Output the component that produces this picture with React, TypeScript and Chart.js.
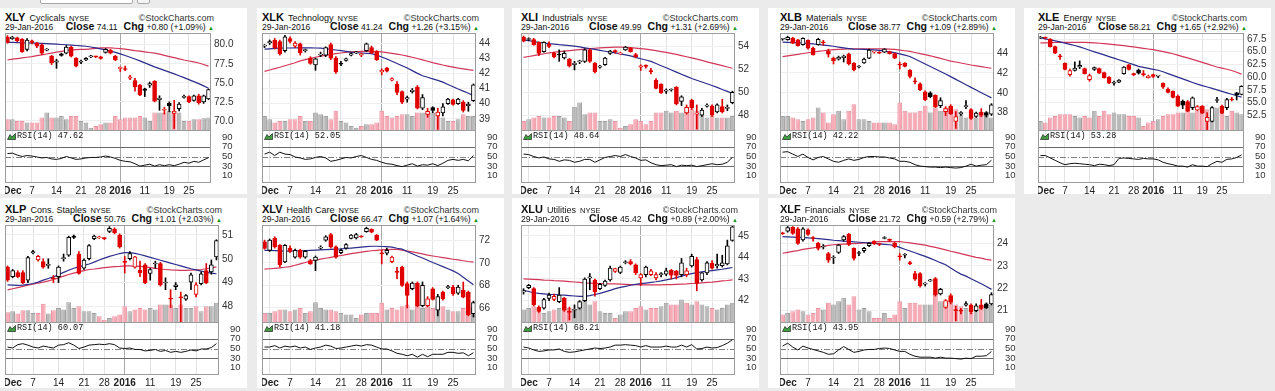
import React, { useEffect, useRef } from 'react';
import { Chart, registerables } from 'chart.js';
Chart.register(...registerables);

// ---------- shared axis data ----------
const DATES = ['Nov 30','Dec 1','Dec 2','Dec 3','Dec 4','Dec 7','Dec 8','Dec 9','Dec 10','Dec 11','Dec 14','Dec 15','Dec 16','Dec 17','Dec 18','Dec 21','Dec 22','Dec 23','Dec 24','Dec 28','Dec 29','Dec 30','Dec 31','Jan 4','Jan 5','Jan 6','Jan 7','Jan 8','Jan 11','Jan 12','Jan 13','Jan 14','Jan 15','Jan 19','Jan 20','Jan 21','Jan 22','Jan 25','Jan 26','Jan 27','Jan 28','Jan 29'];
const XTICK_INDEX = [1, 5, 10, 15, 19, 23, 28, 33, 37];
const XTICK_TEXT = ['Dec', '7', '14', '21', '28', '2016', '11', '19', '25'];
const XTICK_BOLD = ['Dec', '2016'];
const RSI_TICKS = [10, 30, 50, 70, 90];
const RSI_LEVELS = [70, 50, 30];

// ---------- XLY ----------
const XLY_PREV = 80.8;
const XLY_O = [81.0,80.8,80.9,80.7,79.4,80.5,80.2,80.0,79.3,78.5,77.7,78.8,78.9,79.7,78.2,77.7,78.0,78.4,78.5,78.4,79.0,79.3,78.5,76.9,76.8,75.6,75.3,74.7,74.2,74.7,75.2,72.8,71.4,72.3,71.0,71.6,73.1,73.2,72.7,73.3,72.5,72.9];
const XLY_H = [81.2,81.1,81.0,80.8,80.8,80.6,80.3,80.1,79.5,78.6,78.1,78.9,79.9,79.8,78.3,78.0,78.3,78.6,78.5,78.5,79.5,79.4,78.6,77.1,77.2,76.0,75.6,74.8,74.3,75.1,75.3,73.3,71.8,72.5,72.7,72.4,73.4,73.3,73.4,73.5,73.4,74.2];
const XLY_L = [80.2,80.7,80.4,79.0,79.2,80.1,79.6,78.7,79.2,77.4,76.9,78.5,78.8,78.4,77.1,77.5,77.9,78.3,78.3,78.1,78.9,78.8,77.9,76.5,76.6,75.4,73.9,73.3,73.2,74.4,72.5,71.4,70.9,71.2,69.0,71.3,73.0,72.4,72.6,72.2,72.3,72.8];
const XLY_C = [80.3,81.0,80.5,79.1,80.6,80.3,79.8,78.9,79.4,77.6,77.9,78.6,79.7,78.5,77.2,77.8,78.2,78.5,78.4,78.2,79.4,78.9,78.0,76.9,76.75,75.8,74.5,73.4,74.0,74.9,72.6,73.0,71.5,72.0,71.3,72.2,73.2,72.5,73.3,72.4,73.31,74.11];
const XLY_V = [35,35,30,30,25,25,25,40,55,40,40,45,35,45,45,30,25,10,15,20,25,25,45,35,40,40,40,45,40,30,55,55,55,60,60,55,30,30,35,35,38,40];
const XLY_MA20 = [80.3,80.3,80.28,80.26,80.24,80.22,80.2,80.17,80.14,80.1,80.07,80.03,80.0,79.95,79.9,79.85,79.8,79.7,79.58,79.46,79.33,79.17,79.0,78.8,78.58,78.35,78.13,77.88,77.62,77.36,77.1,76.87,76.64,76.4,76.17,75.93,75.68,75.42,75.16,74.9,74.6,74.3];
const XLY_MA50 = [78.0,78.1,78.18,78.27,78.36,78.45,78.56,78.67,78.78,78.9,79.02,79.14,79.26,79.32,79.35,79.38,79.4,79.46,79.52,79.58,79.6,79.58,79.54,79.5,79.42,79.33,79.23,79.15,79.07,78.98,78.9,78.76,78.6,78.45,78.3,78.15,78.0,77.87,77.74,77.6,77.4,77.2];
const XLY_RSI = [56,57,53,50,52,51,49,47,48,45,44,46,50,47,44,45,47,48,48,49,51,49,46,42,40,39,35,30,32,34,30,33,31,33,31,34,38,36,40,38,43,47.62];
const XLY_TICKS = [70, 72.5, 75, 77.5, 80];

// ---------- XLK ----------
const XLK_PREV = 43.7;
const XLK_O = [43.8,44.0,44.2,44.1,43.5,44.3,43.8,43.95,43.5,43.0,42.55,43.2,43.2,43.9,43.0,42.65,42.85,43.2,43.35,43.2,43.5,43.7,43.45,42.1,42.35,41.55,41.3,40.8,40.3,40.8,41.1,39.7,39.3,39.75,39.2,39.4,40.0,40.25,40.0,40.1,39.85,40.2];
const XLK_H = [43.9,44.2,44.3,44.2,44.5,44.4,44.1,44.0,43.6,43.1,43.0,43.4,43.75,44.0,43.1,42.8,43.0,43.35,43.45,43.35,44.0,43.8,43.5,42.3,42.4,41.7,41.45,40.85,40.5,41.0,41.2,40.6,39.7,39.8,39.7,40.0,40.35,40.3,40.35,40.2,40.1,41.3];
const XLK_L = [43.7,43.9,43.6,43.2,43.4,44.0,43.7,43.2,43.4,42.6,42.2,43.1,43.1,42.9,42.0,42.5,42.8,43.15,43.3,43.1,43.45,43.3,42.85,41.9,42.1,41.5,40.6,40.0,40.1,40.7,39.65,39.6,39.1,39.4,38.3,39.2,39.95,39.9,39.95,39.45,39.5,40.15];
const XLK_C = [43.8,44.1,43.7,43.3,44.4,44.1,44.0,43.35,43.5,42.65,42.95,43.25,43.7,43.0,42.1,42.6,42.95,43.3,43.38,43.28,43.95,43.35,42.9,42.2,42.15,41.65,40.75,40.1,40.4,40.9,39.7,40.4,39.5,39.55,39.45,39.8,40.3,39.95,40.3,39.55,39.98,41.24];
const XLK_V = [45,35,25,30,30,35,35,45,30,30,55,50,45,35,60,30,25,15,10,15,20,20,25,60,45,40,45,50,50,45,55,55,55,55,55,40,30,30,35,50,45,45];
const XLK_MA20 = [43.6,43.62,43.64,43.66,43.67,43.67,43.68,43.68,43.68,43.68,43.67,43.66,43.62,43.58,43.54,43.5,43.45,43.4,43.36,43.34,43.32,43.3,43.2,43.08,42.95,42.8,42.65,42.5,42.35,42.18,42.0,41.84,41.74,41.64,41.54,41.42,41.27,41.12,40.97,40.83,40.69,40.55];
const XLK_MA50 = [42.13,42.22,42.31,42.4,42.5,42.6,42.7,42.82,42.91,42.99,43.06,43.13,43.19,43.25,43.3,43.34,43.38,43.42,43.44,43.45,43.45,43.45,43.44,43.42,43.37,43.32,43.27,43.21,43.14,43.06,42.98,42.89,42.8,42.71,42.63,42.55,42.48,42.41,42.34,42.29,42.24,42.2];
const XLK_RSI = [55,59,52,59,55,54,49,47,44,45,48,50,47,40,42,45,48,47,50,52,48,44,42,38,35,34,31,29,32,35,30,33,32,35,31,36,42,44,42,44,41,52.05];
const XLK_TICKS = [39, 40, 41, 42, 43, 44];

// ---------- XLI ----------
const XLI_PREV = 54.6;
const XLI_O = [54.8,54.6,54.6,54.35,53.55,54.2,53.45,53.3,53.0,52.9,52.4,52.65,52.7,53.7,52.55,52.2,52.4,53.4,53.6,53.35,53.7,53.85,53.3,52.2,52.35,51.9,51.05,50.7,50.1,50.2,50.45,49.2,48.2,49.3,48.1,48.0,48.8,48.8,48.3,48.75,48.6,49.1];
const XLI_H = [54.9,54.75,54.7,54.4,54.4,54.4,53.5,53.7,53.6,52.95,52.7,52.8,53.8,53.8,52.6,52.35,53.05,53.65,53.7,53.5,54.0,53.9,53.4,52.4,52.4,52.1,51.2,50.75,50.3,50.3,50.5,49.7,48.9,49.4,48.9,48.6,49.0,48.9,49.0,49.4,48.9,50.1];
const XLI_L = [54.4,54.5,54.1,53.2,53.5,53.9,53.0,52.7,52.9,52.2,51.95,52.5,52.6,52.6,51.7,52.1,52.35,53.3,53.4,53.3,53.65,53.5,53.0,51.9,52.1,51.6,50.3,49.9,49.9,50.1,48.9,48.85,48.1,48.5,46.8,47.9,48.7,47.9,48.2,48.2,48.4,49.0];
const XLI_C = [54.45,54.65,54.15,53.4,54.35,54.0,53.1,53.25,53.4,52.3,52.55,52.7,53.7,52.7,51.8,52.25,52.98,53.6,53.55,53.45,53.95,53.55,53.1,52.3,52.25,51.8,50.35,49.95,50.15,50.25,49.0,49.6,48.7,48.65,48.2,48.45,48.85,48.0,48.9,48.3,48.68,49.99];
const XLI_V = [30,35,40,45,40,40,45,45,40,30,72,85,50,55,55,30,30,35,30,10,15,20,35,30,20,30,55,55,60,55,60,55,70,65,60,50,40,45,40,40,40,45];
const XLI_MA20 = [54.56,54.5,54.43,54.36,54.29,54.24,54.2,54.15,54.11,54.07,54.02,53.96,53.88,53.81,53.74,53.66,53.58,53.5,53.43,53.35,53.26,53.17,53.05,52.93,52.82,52.7,52.51,52.32,52.14,51.95,51.76,51.57,51.39,51.2,51.05,50.9,50.75,50.6,50.43,50.25,50.08,49.9];
const XLI_MA50 = [53.04,53.12,53.2,53.28,53.36,53.43,53.49,53.54,53.59,53.64,53.68,53.72,53.76,53.8,53.84,53.87,53.9,53.92,53.94,53.95,53.93,53.9,53.86,53.81,53.76,53.7,53.63,53.55,53.48,53.4,53.3,53.2,53.1,53.0,52.89,52.78,52.66,52.55,52.44,52.33,52.21,52.1];
const XLI_RSI = [55,54,50,47,49,45,44,40,43,42,38,40,44,44,38,43,48,50,52,50,54,50,47,42,43,37,33,31,32,33,29,32,31,32,29,31,33,35,33,34,38,48.64];
const XLI_TICKS = [48, 50, 52, 54];

// ---------- XLB ----------
const XLB_PREV = 45.3;
const XLB_O = [45.4,45.35,45.5,45.35,44.85,45.3,44.5,44.85,45.1,44.2,43.5,43.4,43.55,43.9,43.0,42.6,43.0,43.5,44.1,44.1,44.1,44.15,43.95,42.9,43.0,42.3,41.2,40.9,40.1,40.0,39.75,38.7,38.1,38.65,37.1,37.9,38.6,38.3,37.6,38.05,38.0,37.85];
const XLB_H = [45.5,45.7,45.6,45.4,45.55,45.35,44.6,45.5,45.3,44.4,43.6,43.7,43.8,44.0,43.05,42.75,43.5,44.4,44.2,44.15,44.45,44.2,44.0,43.1,43.05,42.35,41.5,41.0,40.2,40.1,39.8,39.5,38.6,38.8,38.1,38.1,39.2,38.4,38.05,38.4,38.1,38.9];
const XLB_L = [45.3,45.3,44.95,44.7,44.8,44.4,43.8,44.8,44.8,43.6,42.9,43.3,43.1,42.8,42.2,42.5,42.95,43.45,44.0,43.95,44.05,43.9,43.45,42.4,42.6,41.5,40.9,40.2,39.2,39.5,38.5,38.5,37.7,37.8,36.4,37.7,38.4,37.3,37.5,37.6,37.55,37.7];
const XLB_C = [45.45,45.6,45.0,44.75,45.5,44.5,43.85,45.4,45.05,43.9,43.2,43.6,43.7,42.9,42.3,42.65,43.4,44.3,44.15,44.0,44.4,43.95,43.5,42.8,42.65,41.65,41.1,40.3,39.3,39.6,38.6,39.2,38.4,37.9,37.6,37.95,38.65,37.4,37.95,37.7,37.71,38.77];
const XLB_V = [45,45,40,35,30,35,40,70,55,25,50,60,35,60,80,35,35,30,25,25,25,25,20,85,60,55,55,60,75,55,70,60,70,70,65,55,40,45,40,45,45,40];
const XLB_MA20 = [45.1,45.08,45.06,45.04,45.01,44.98,44.93,44.87,44.81,44.75,44.69,44.61,44.53,44.46,44.4,44.39,44.38,44.36,44.33,44.27,44.2,44.13,44.05,43.92,43.79,43.66,43.41,43.16,42.9,42.65,42.4,42.15,41.9,41.63,41.35,41.08,40.8,40.54,40.27,40.0,39.74,39.48];
const XLB_MA50 = [43.64,43.72,43.8,43.88,43.96,44.04,44.11,44.18,44.24,44.3,44.35,44.38,44.41,44.43,44.44,44.44,44.44,44.44,44.44,44.43,44.42,44.41,44.38,44.31,44.24,44.17,44.06,43.95,43.84,43.73,43.6,43.47,43.33,43.2,43.1,43.0,42.9,42.8,42.72,42.63,42.55,42.47];
const XLB_RSI = [59,60,55,50,55,48,43,48,50,45,40,38,42,45,42,44,48,50,50,49,49,47,45,40,40,38,33,30,29,28,28,27,28,27,26,27,30,34,30,32,33,42.22];
const XLB_TICKS = [38, 40, 42, 44];

// ---------- XLE ----------
const XLE_PREV = 67.5;
const XLE_O = [67.7,67.8,67.5,66.0,64.2,62.7,60.5,61.3,62.0,61.7,59.5,61.5,61.7,60.9,60.0,58.8,59.0,60.7,62.4,60.6,61.4,60.6,59.9,60.5,60.2,58.8,57.6,57.2,56.2,55.3,55.2,54.0,53.5,54.3,51.3,51.3,55.4,54.3,54.0,55.7,56.9,56.6];
const XLE_H = [68.0,67.9,67.6,66.1,64.5,62.8,61.6,63.0,63.2,61.8,60.6,62.0,61.8,61.0,60.1,59.2,59.5,62.1,62.5,60.8,61.6,61.3,60.4,60.6,60.3,58.9,57.9,57.3,56.5,55.5,55.4,56.1,54.4,54.4,53.0,54.2,56.0,54.5,55.8,56.0,57.0,58.3];
const XLE_L = [67.6,67.5,65.9,64.6,63.5,61.4,60.2,61.2,61.7,60.6,59.2,61.3,60.7,59.8,58.7,58.4,58.9,60.6,61.4,60.3,60.6,60.2,59.8,59.9,59.9,57.8,56.9,55.9,54.2,53.8,53.2,53.6,53.4,52.8,49.6,51.2,55.0,52.8,53.6,55.3,55.5,56.5];
const XLE_C = [67.9,67.7,66.0,64.7,64.0,61.5,61.3,61.8,62.3,60.7,60.3,61.9,60.8,59.9,58.8,58.85,59.4,62.0,61.5,60.5,60.8,60.5,60.2,60.15,60.25,58.0,57.0,56.0,54.3,54.5,53.3,55.9,54.2,52.9,52.1,54.0,55.5,52.9,55.6,55.5,56.56,58.21];
const XLE_V = [30,25,40,45,50,50,50,45,40,45,40,60,45,60,50,55,50,50,45,45,40,15,25,30,35,45,50,50,55,55,60,55,60,75,65,55,70,55,45,60,55,50];
const XLE_MA20 = [67.75,67.55,67.35,67.15,66.93,66.7,66.46,66.22,65.95,65.63,65.3,64.98,64.68,64.37,64.05,63.73,63.42,63.1,62.78,62.45,62.12,61.92,61.73,61.54,61.35,61.05,60.7,60.35,60.0,59.65,59.3,58.95,58.62,58.34,58.06,57.78,57.5,57.2,56.91,56.62,56.33,56.05];
const XLE_MA50 = [66.73,66.76,66.79,66.82,66.84,66.84,66.84,66.84,66.84,66.84,66.8,66.74,66.67,66.6,66.5,66.4,66.3,66.19,66.07,65.96,65.82,65.68,65.54,65.4,65.22,65.03,64.84,64.6,64.33,64.05,63.78,63.5,63.2,62.9,62.6,62.29,62.0,61.78,61.55,61.3,60.95,60.6];
const XLE_RSI = [52,52,47,42,37,33,35,36,35,34,33,31,34,33,31,33,46,47,46,45,44,46,45,45,43,38,35,33,30,30,28,33,30,30,29,35,40,38,44,45,48,53.28];
const XLE_TICKS = [52.5, 55, 57.5, 60, 62.5, 65, 67.5];

// ---------- XLP ----------
const XLP_PREV = 49.8;
const XLP_O = [49.65,49.25,49.42,49.42,49.1,50.25,49.95,49.88,49.72,49.2,49.25,50.0,50.15,50.95,50.2,49.6,50.0,50.85,50.88,50.87,51.15,51.25,51.0,49.88,50.0,49.65,49.52,49.75,49.38,49.78,49.8,48.98,48.35,48.83,48.4,48.3,49.02,48.5,48.95,49.5,49.45,50.08];
const XLP_H = [49.7,49.55,49.5,49.5,50.1,50.35,50.15,50.0,50.0,49.3,49.7,50.2,50.95,51.0,50.3,50.0,50.6,51.0,50.95,50.9,51.35,51.3,51.05,50.1,50.3,50.1,49.9,49.8,49.6,49.9,49.85,49.2,48.7,49.0,48.6,48.5,49.4,49.0,49.45,49.8,49.95,50.8];
const XLP_L = [49.05,49.2,49.2,48.95,49.0,50.2,49.9,49.6,49.6,49.0,49.0,49.9,50.1,50.85,49.35,49.55,49.95,50.8,50.85,50.8,51.1,51.05,50.45,49.4,49.95,49.6,49.25,48.95,49.1,49.6,48.85,48.7,47.95,48.7,47.3,48.25,48.7,48.4,48.9,48.95,49.35,49.95];
const XLP_C = [49.1,49.5,49.25,49.0,50.05,50.3,50.1,49.65,49.73,49.15,49.65,50.05,50.9,50.9,49.38,49.95,50.55,50.95,50.92,50.85,51.28,51.1,50.5,49.85,50.22,50.08,49.42,49.0,49.55,49.8,48.9,49.0,48.3,48.9,48.35,48.45,49.33,48.9,49.37,49.0,49.75,50.76];
const XLP_V = [32,35,28,38,38,30,30,57,28,38,45,40,62,45,50,35,35,30,20,10,15,20,25,50,35,40,45,40,45,40,55,55,55,45,55,45,45,50,35,50,50,60];
const XLP_MA20 = [48.9,48.89,48.88,48.89,48.92,48.96,49.02,49.1,49.17,49.24,49.33,49.43,49.52,49.6,49.66,49.72,49.78,49.86,49.95,50.03,50.1,50.16,50.22,50.26,50.26,50.23,50.18,50.12,50.06,50.0,49.94,49.88,49.82,49.76,49.7,49.64,49.58,49.53,49.48,49.43,49.4,49.37];
const XLP_MA50 = [48.69,48.74,48.79,48.84,48.89,48.93,48.98,49.02,49.07,49.13,49.2,49.27,49.34,49.4,49.45,49.5,49.55,49.57,49.6,49.63,49.65,49.67,49.68,49.7,49.7,49.69,49.68,49.66,49.63,49.6,49.57,49.55,49.53,49.52,49.51,49.51,49.52,49.53,49.55,49.58,49.62,49.66];
const XLP_RSI = [53,51,58,60,57,53,51,55,53,51,57,58,62,57,50,53,57,58,59,58,60,58,51,50,51,48,48,45,46,48,44,46,42,44,42,44,47,45,49,49,52,60.07];
const XLP_TICKS = [48, 49, 50, 51];

// ---------- XLV ----------
const XLV_PREV = 72.0;
const XLV_O = [71.85,71.1,72.15,71.55,70.07,71.3,70.5,71.1,70.5,70.2,70.2,71.3,72.0,72.5,71.4,70.9,71.3,72.15,72.2,72.35,72.75,72.95,72.45,70.85,70.85,70.1,69.2,69.6,68.15,67.7,68.2,66.2,66.2,67.7,65.8,67.4,67.8,67.85,67.3,67.55,67.4,65.5];
const XLV_H = [72.0,72.1,72.3,71.6,71.6,71.5,71.2,71.2,71.1,70.3,70.6,71.5,72.4,72.6,71.5,71.2,71.7,72.5,72.6,72.4,73.15,73.0,72.5,71.1,71.3,70.6,69.6,69.7,68.3,68.3,68.3,68.3,67.0,67.8,67.2,67.5,68.0,68.0,68.0,68.3,67.5,66.6];
const XLV_L = [71.2,71.0,71.3,69.6,70.0,70.9,70.4,70.4,70.4,69.85,69.3,71.2,71.9,71.3,70.4,70.8,71.2,72.1,72.1,72.25,72.7,72.65,71.95,69.9,70.7,70.0,68.6,67.9,66.0,67.6,66.1,66.1,66.1,66.7,65.3,66.7,67.7,67.1,67.2,66.9,65.3,65.2];
const XLV_C = [71.26,72.0,71.4,69.8,71.55,71.0,71.1,70.5,71.0,69.9,70.5,71.35,72.3,71.4,70.5,71.1,71.6,72.45,72.5,72.28,73.05,72.7,72.0,70.8,71.1,70.5,69.15,68.0,67.1,68.2,66.2,68.0,66.8,66.75,67.0,66.8,67.85,67.25,67.85,66.95,65.4,66.47];
const XLV_V = [30,30,35,40,40,35,40,45,30,35,62,45,40,40,35,30,25,25,15,25,30,30,30,60,40,45,40,50,55,40,55,45,50,45,55,50,40,35,35,45,50,45];
const XLV_MA20 = [71.1,71.09,71.07,71.05,71.03,71.02,71.04,71.06,71.08,71.1,71.12,71.14,71.16,71.18,71.2,71.22,71.26,71.3,71.34,71.38,71.42,71.46,71.46,71.44,71.42,71.38,71.28,71.2,71.0,70.8,70.6,70.42,70.22,70.02,69.84,69.66,69.47,69.28,69.05,68.72,68.38,68.05];
const XLV_MA50 = [69.44,69.47,69.5,69.54,69.6,69.66,69.78,69.9,70.02,70.13,70.24,70.32,70.4,70.48,70.57,70.64,70.72,70.8,70.88,70.94,71.0,71.06,71.1,71.14,71.17,71.19,71.18,71.11,71.03,70.96,70.87,70.78,70.68,70.6,70.53,70.45,70.38,70.31,70.25,70.18,70.11,70.06];
const XLV_RSI = [53,53,56,51,55,53,55,51,53,48,51,53,57,55,50,51,53,55,57,55,58,57,53,49,49,45,40,38,35,38,32,38,33,38,38,38,42,42,40,41,35,41.18];
const XLV_TICKS = [66, 68, 70, 72];

// ---------- XLU ----------
const XLU_PREV = 42.3;
const XLU_O = [42.4,42.6,42.55,41.7,41.65,42.1,42.05,41.95,42.1,41.5,41.55,41.65,42.0,43.05,42.95,42.55,42.7,42.95,43.35,43.3,43.75,43.8,43.65,43.05,43.2,43.2,43.05,43.2,43.22,43.4,43.35,43.2,43.2,43.6,43.9,42.95,43.28,43.72,43.6,43.62,43.7,44.78];
const XLU_H = [42.55,42.75,42.6,41.75,42.1,42.35,42.3,42.6,42.15,41.7,41.8,42.0,43.05,43.25,43.0,42.8,42.95,43.6,43.5,43.6,43.85,43.9,43.7,43.25,43.6,43.45,43.3,43.3,43.5,43.45,43.4,43.95,43.5,44.15,44.0,43.3,43.8,43.85,44.15,44.1,44.8,45.55];
const XLU_L = [42.3,42.55,41.75,41.45,41.6,42.0,42.0,41.9,41.5,41.1,41.2,41.6,41.95,42.5,42.2,42.5,42.65,42.9,43.3,43.25,43.7,43.65,43.2,42.7,43.1,43.15,42.95,43.1,43.15,43.0,43.0,43.1,43.1,43.55,42.45,42.9,43.2,43.45,43.5,43.55,43.65,44.75];
const XLU_C = [42.45,42.7,41.8,41.5,42.05,42.25,42.2,42.25,41.55,41.45,41.57,41.95,43.0,43.07,42.4,42.75,42.9,43.5,43.48,43.55,43.78,43.7,43.28,43.2,43.55,43.38,43.2,43.23,43.38,43.18,43.16,43.75,43.38,44.05,42.8,43.28,43.75,43.5,43.68,43.75,44.53,45.42];
const XLU_V = [40,45,50,45,30,35,40,45,50,45,40,45,70,55,65,35,30,30,15,25,35,35,45,50,40,45,45,50,60,55,55,70,60,55,65,55,50,45,40,45,55,60];
const XLU_MA20 = [42.47,42.42,42.36,42.33,42.31,42.29,42.28,42.26,42.25,42.23,42.21,42.19,42.19,42.23,42.28,42.33,42.4,42.47,42.55,42.61,42.66,42.71,42.75,42.78,42.81,42.84,42.87,42.91,42.96,43.0,43.06,43.13,43.2,43.25,43.29,43.33,43.36,43.39,43.42,43.45,43.49,43.53];
const XLU_MA50 = [43.0,42.99,42.98,42.97,42.95,42.94,42.92,42.91,42.9,42.88,42.86,42.84,42.82,42.81,42.8,42.79,42.78,42.77,42.77,42.76,42.75,42.74,42.74,42.73,42.73,42.73,42.73,42.73,42.74,42.74,42.75,42.76,42.77,42.79,42.8,42.82,42.84,42.85,42.88,42.91,42.93,42.96];
const XLU_RSI = [53,51,47,44,45,47,47,49,44,42,43,45,47,49,51,50,51,53,57,57,58,57,56,53,56,53,53,53,55,53,53,57,53,58,49,50,53,51,52,56,61,68.21];
const XLU_TICKS = [42, 43, 44, 45];

// ---------- XLF ----------
const XLF_PREV = 24.5;
const XLF_O = [24.47,24.55,24.72,24.65,24.15,24.6,24.25,24.0,23.84,23.55,23.35,23.6,24.15,24.4,23.78,23.55,23.67,23.9,24.1,23.97,24.22,24.18,24.0,23.42,23.47,23.12,22.65,22.65,22.18,22.33,22.43,21.75,21.15,21.67,21.02,21.0,21.25,21.25,21.0,21.25,21.3,21.3];
const XLF_H = [24.5,24.75,24.75,24.7,24.7,24.65,24.3,24.05,23.95,23.6,23.45,23.95,24.35,24.45,23.8,23.65,23.82,24.02,24.12,24.0,24.3,24.2,24.05,23.55,23.55,23.2,22.75,22.7,22.25,22.4,22.48,22.0,21.5,21.75,21.2,21.1,21.4,21.3,21.3,21.5,21.35,21.8];
const XLF_L = [24.4,24.5,24.4,23.95,24.1,24.35,24.1,23.7,23.75,23.15,23.1,23.55,24.1,23.9,23.25,23.45,23.6,23.85,23.95,23.9,24.2,24.08,23.8,23.25,23.35,23.05,22.35,22.05,22.1,22.3,21.65,21.7,21.1,21.3,20.55,20.85,21.2,20.85,20.95,21.05,21.1,21.25];
const XLF_C = [24.43,24.7,24.45,24.0,24.65,24.4,24.22,23.78,23.86,23.25,23.37,23.92,24.3,23.95,23.33,23.56,23.78,24.0,23.98,23.95,24.23,24.13,23.85,23.4,23.48,23.1,22.4,22.12,22.2,22.35,21.7,21.95,21.45,21.38,21.0,20.98,21.32,20.93,21.22,21.1,21.13,21.72];
const XLF_V = [25,30,35,40,35,25,30,45,40,60,55,65,75,55,80,40,45,35,15,15,30,15,25,65,45,60,60,55,55,55,85,65,65,75,55,50,45,30,40,55,45,55];
const XLF_MA20 = [24.3,24.29,24.28,24.27,24.26,24.25,24.23,24.21,24.19,24.17,24.14,24.12,24.1,24.09,24.07,24.05,24.03,24.02,24.0,23.98,23.96,23.94,23.9,23.82,23.74,23.66,23.58,23.5,23.42,23.33,23.24,23.14,23.05,22.9,22.76,22.63,22.54,22.42,22.31,22.2,22.08,21.95];
const XLF_MA50 = [23.56,23.6,23.64,23.68,23.73,23.77,23.8,23.84,23.87,23.91,23.94,23.96,23.97,23.98,23.99,24.0,24.02,24.04,24.06,24.08,24.08,24.08,24.08,24.08,24.05,24.02,23.99,23.96,23.92,23.87,23.82,23.77,23.71,23.65,23.6,23.54,23.49,23.43,23.38,23.34,23.29,23.25];
const XLF_RSI = [55,61,53,47,55,51,48,45,42,38,39,47,54,48,42,44,47,48,48,50,51,50,47,44,44,38,34,32,32,32,30,32,30,30,29,28,30,29,34,34,35,43.95];
const XLF_TICKS = [21, 22, 23, 24];

// ---------- panel table (built from the arrays above) ----------
const PANELS = [
  { sym: 'XLY', name: 'Cyclicals', close: '74.11', chg: '+0.80 (+1.09%)', rsiLast: '47.62', o: XLY_O, h: XLY_H, l: XLY_L, c: XLY_C, v: XLY_V, ma20: XLY_MA20, ma50: XLY_MA50, rsi: XLY_RSI, prev: XLY_PREV, ticks: XLY_TICKS, yMin: 68.68, yMax: 81.54, dec: 1, row: 0, col: 0 },
  { sym: 'XLK', name: 'Technology', close: '41.24', chg: '+1.26 (+3.15%)', rsiLast: '52.05', o: XLK_O, h: XLK_H, l: XLK_L, c: XLK_C, v: XLK_V, ma20: XLK_MA20, ma50: XLK_MA50, rsi: XLK_RSI, prev: XLK_PREV, ticks: XLK_TICKS, yMin: 38.2, yMax: 44.66, dec: 0, row: 0, col: 1 },
  { sym: 'XLI', name: 'Industrials', close: '49.99', chg: '+1.31 (+2.69%)', rsiLast: '48.64', o: XLI_O, h: XLI_H, l: XLI_L, c: XLI_C, v: XLI_V, ma20: XLI_MA20, ma50: XLI_MA50, rsi: XLI_RSI, prev: XLI_PREV, ticks: XLI_TICKS, yMin: 46.63, yMax: 55.17, dec: 0, row: 0, col: 2 },
  { sym: 'XLB', name: 'Materials', close: '38.77', chg: '+1.09 (+2.89%)', rsiLast: '42.22', o: XLB_O, h: XLB_H, l: XLB_L, c: XLB_C, v: XLB_V, ma20: XLB_MA20, ma50: XLB_MA50, rsi: XLB_RSI, prev: XLB_PREV, ticks: XLB_TICKS, yMin: 36.14, yMax: 46.03, dec: 0, row: 0, col: 3 },
  { sym: 'XLE', name: 'Energy', close: '58.21', chg: '+1.65 (+2.92%)', rsiLast: '53.28', o: XLE_O, h: XLE_H, l: XLE_L, c: XLE_C, v: XLE_V, ma20: XLE_MA20, ma50: XLE_MA50, rsi: XLE_RSI, prev: XLE_PREV, ticks: XLE_TICKS, yMin: 49.39, yMax: 68.69, dec: 1, row: 0, col: 4 },
  { sym: 'XLP', name: 'Cons. Staples', close: '50.76', chg: '+1.01 (+2.03%)', rsiLast: '60.07', o: XLP_O, h: XLP_H, l: XLP_L, c: XLP_C, v: XLP_V, ma20: XLP_MA20, ma50: XLP_MA50, rsi: XLP_RSI, prev: XLP_PREV, ticks: XLP_TICKS, yMin: 47.3, yMax: 51.42, dec: 0, row: 1, col: 0 },
  { sym: 'XLV', name: 'Health Care', close: '66.47', chg: '+1.07 (+1.64%)', rsiLast: '41.18', o: XLV_O, h: XLV_H, l: XLV_L, c: XLV_C, v: XLV_V, ma20: XLV_MA20, ma50: XLV_MA50, rsi: XLV_RSI, prev: XLV_PREV, ticks: XLV_TICKS, yMin: 64.67, yMax: 73.34, dec: 0, row: 1, col: 1 },
  { sym: 'XLU', name: 'Utilities', close: '45.42', chg: '+0.89 (+2.00%)', rsiLast: '68.21', o: XLU_O, h: XLU_H, l: XLU_L, c: XLU_C, v: XLU_V, ma20: XLU_MA20, ma50: XLU_MA50, rsi: XLU_RSI, prev: XLU_PREV, ticks: XLU_TICKS, yMin: 40.96, yMax: 45.5, dec: 0, row: 1, col: 2 },
  { sym: 'XLF', name: 'Financials', close: '21.72', chg: '+0.59 (+2.79%)', rsiLast: '43.95', o: XLF_O, h: XLF_H, l: XLF_L, c: XLF_C, v: XLF_V, ma20: XLF_MA20, ma50: XLF_MA50, rsi: XLF_RSI, prev: XLF_PREV, ticks: XLF_TICKS, yMin: 20.45, yMax: 24.82, dec: 0, row: 1, col: 3 },
];

// ---------- layout & style ----------
const FONT = '"Liberation Sans", Arial, Helvetica, sans-serif';
const MONO = '"Liberation Mono", "DejaVu Sans Mono", monospace';
const RED = '#e00000';
const BLACK = '#000000';
const VOL_PINK = '#f6aab5';
const VOL_PINK_EDGE = '#ea94a2';
const VOL_GRAY = '#b8b8b8';
const VOL_GRAY_EDGE = '#a0a0a0';
const MA20_COLOR = '#2c2c8c';
const MA50_COLOR = '#d2375a';
const VOL_MAX = 292;
const RSI_MIN = -5;
const RSI_MAX = 105;
const CARD_X = [0, 257, 512, 768, 1024];
const CARD_W = 247;
const CARD_TOP = [8, 198];
const CARD_H = [186, 190];
const COL_X = [5, 262, 521, 780, 1038];
const PLOT_TOP = [33, 225];
const PRICE_H = 98;
const RSI_H = 53;
const XLAB_H = 13;
const AXW = 26;

const YEAR_INDEX = XTICK_INDEX[XTICK_TEXT.indexOf('2016')];
const gridX = (ctx: any) => {
  const i = ctx.index;
  if (i === YEAR_INDEX) return '#a9a9a9';
  return XTICK_INDEX.includes(i) ? '#e3e3e3' : 'rgba(0,0,0,0)';
};
const tickTextAt = (i: number) => {
  const k = XTICK_INDEX.indexOf(i);
  return k >= 0 ? XTICK_TEXT[k] : '';
};

const framePlugin = {
  id: 'frame',
  afterDraw(chart: any) {
    const { ctx, chartArea: a } = chart;
    ctx.save();
    ctx.strokeStyle = '#9c9c9c';
    ctx.lineWidth = 1;
    ctx.strokeRect(Math.round(a.left) + 0.5, Math.round(a.top) + 0.5, Math.round(a.right - a.left) - 1, Math.round(a.bottom - a.top) - 1);
    ctx.restore();
  },
};

const rsiLevelsPlugin = {
  id: 'rsiLevels',
  beforeDatasetsDraw(chart: any) {
    const { ctx, chartArea: a } = chart;
    const ys = chart.scales.y;
    RSI_LEVELS.forEach((lv) => {
      const py = Math.round(ys.getPixelForValue(lv)) + 0.5;
      ctx.save();
      ctx.strokeStyle = lv === 50 ? '#808080' : '#6a6a6a';
      ctx.lineWidth = 1;
      ctx.setLineDash(lv === 50 ? [6, 2, 1, 2] : []);
      ctx.beginPath();
      ctx.moveTo(a.left, py);
      ctx.lineTo(a.right, py);
      ctx.stroke();
      ctx.restore();
    });
  },
};

function isDown(p: any, i: number) {
  const prev = i > 0 ? p.c[i - 1] : p.prev;
  return p.c[i] < prev;
}

function priceConfig(p: any): any {
  const n = p.c.length;
  const idx = Array.from({ length: n }, (_, i) => i);
  const dir = idx.map((i) => (isDown(p, i) ? RED : BLACK));
  return {
    type: 'bar',
    data: {
      labels: DATES,
      datasets: [
        {
          type: 'bar', label: 'body', yAxisID: 'y', order: 0,
          data: idx.map((i) => [p.o[i], p.c[i]]),
          backgroundColor: idx.map((i) => (p.c[i] >= p.o[i] ? '#ffffff' : dir[i])),
          borderColor: dir, borderWidth: 1, borderSkipped: false,
          barThickness: 4, minBarLength: 1, grouped: false,
        },
        {
          type: 'bar', label: 'wick', yAxisID: 'y', order: 1,
          data: idx.map((i) => [p.l[i], p.h[i]]),
          backgroundColor: dir, borderWidth: 0, barThickness: 1, grouped: false,
        },
        { type: 'line', label: 'MA20', yAxisID: 'y', order: 2, data: p.ma20, borderColor: MA20_COLOR, borderWidth: 1.2, pointRadius: 0, fill: false },
        { type: 'line', label: 'MA50', yAxisID: 'y', order: 3, data: p.ma50, borderColor: MA50_COLOR, borderWidth: 1.2, pointRadius: 0, fill: false },
        {
          type: 'bar', label: 'Volume', yAxisID: 'yv', order: 10,
          data: p.v,
          backgroundColor: idx.map((i) => (isDown(p, i) ? VOL_PINK : VOL_GRAY)),
          borderColor: idx.map((i) => (isDown(p, i) ? VOL_PINK_EDGE : VOL_GRAY_EDGE)),
          borderWidth: 1, barPercentage: 0.94, categoryPercentage: 1, grouped: false,
        },
      ],
    },
    options: {
      animation: false, responsive: false, maintainAspectRatio: false, events: [],
      layout: { padding: 0 },
      plugins: { legend: { display: false }, tooltip: { enabled: false } },
      scales: {
        x: {
          type: 'category', offset: true,
          grid: { offset: false, drawTicks: false, color: gridX, lineWidth: 1 },
          ticks: { display: false, autoSkip: false },
          border: { display: false },
          afterFit: (s: any) => { s.height = 0; s.paddingLeft = 0; s.paddingRight = 0; },
        },
        y: {
          position: 'right', min: p.yMin, max: p.yMax,
          afterBuildTicks: (s: any) => { s.ticks = p.ticks.map((v: number) => ({ value: v })); },
          grid: { color: '#eeeeee', drawTicks: false },
          border: { display: false },
          ticks: { autoSkip: false, padding: 3, color: '#333', font: { family: FONT, size: 10 }, callback: (v: any) => Number(v).toFixed(p.dec) },
          afterFit: (s: any) => { s.width = AXW; s.paddingTop = 0; s.paddingBottom = 0; },
        },
        yv: { display: false, position: 'left', min: 0, max: VOL_MAX },
      },
    },
    plugins: [framePlugin],
  };
}

function rsiConfig(p: any): any {
  return {
    type: 'line',
    data: {
      labels: DATES,
      datasets: [{ label: 'RSI(14)', data: p.rsi, borderColor: '#111', borderWidth: 1, pointRadius: 0, fill: false }],
    },
    options: {
      animation: false, responsive: false, maintainAspectRatio: false, events: [],
      layout: { padding: 0 },
      plugins: { legend: { display: false }, tooltip: { enabled: false } },
      scales: {
        x: {
          type: 'category', offset: true,
          grid: { offset: false, drawTicks: false, color: gridX, lineWidth: 1 },
          border: { display: false },
          ticks: {
            autoSkip: false, maxRotation: 0, minRotation: 0, padding: 2, color: '#222',
            font: (ctx: any) => ({ family: FONT, size: 10, weight: XTICK_BOLD.includes(tickTextAt(ctx.index)) ? 'bold' : 'normal' }),
            callback: (_v: any, i: number) => tickTextAt(i),
          },
          afterFit: (s: any) => { s.height = XLAB_H; s.paddingLeft = 0; s.paddingRight = 0; },
        },
        y: {
          position: 'right', min: RSI_MIN, max: RSI_MAX,
          afterBuildTicks: (s: any) => { s.ticks = RSI_TICKS.map((v) => ({ value: v })); },
          grid: { display: false },
          border: { display: false },
          ticks: { autoSkip: false, padding: 3, color: '#333', font: { family: FONT, size: 9.5 } },
          afterFit: (s: any) => { s.width = AXW; s.paddingTop = 0; s.paddingBottom = 0; },
        },
      },
    },
    plugins: [rsiLevelsPlugin, framePlugin],
  };
}

function Panel({ p }: { p: any }) {
  const priceRef = useRef<HTMLCanvasElement | null>(null);
  const rsiRef = useRef<HTMLCanvasElement | null>(null);
  const plotW = p.dec ? 206 : 214;
  const W = plotW + AXW;
  const left = COL_X[p.col];
  const top = PLOT_TOP[p.row];

  useEffect(() => {
    const c1 = new Chart(priceRef.current as HTMLCanvasElement, priceConfig(p));
    const c2 = new Chart(rsiRef.current as HTMLCanvasElement, rsiConfig(p));
    return () => { c1.destroy(); c2.destroy(); };
  }, []);

  return (
    <>
      <div style={{ position: 'absolute', left: CARD_X[p.col], top: CARD_TOP[p.row], width: CARD_W, height: CARD_H[p.row], background: '#fff' }} />
      <div style={{ position: 'absolute', left, top: top - 23, width: plotW + 3, height: 12, lineHeight: '12px', display: 'flex', justifyContent: 'space-between', alignItems: 'baseline', whiteSpace: 'nowrap', fontFamily: FONT, color: '#111' }}>
        <span>
          <b style={{ fontSize: 11 }}>{p.sym}</b>
          <span style={{ fontSize: 9, marginLeft: 4 }}>{p.name}</span>
          <span style={{ fontSize: 7.5, marginLeft: 4 }}>NYSE</span>
        </span>
        <span style={{ fontSize: 9, color: '#333' }}>©StockCharts.com</span>
      </div>
      <div style={{ position: 'absolute', left, top: top - 12, width: plotW + 3, height: 10, lineHeight: '10px', display: 'flex', justifyContent: 'space-between', alignItems: 'baseline', whiteSpace: 'nowrap', fontFamily: FONT, color: '#111', fontSize: 8.6 }}>
        <span>29-Jan-2016</span>
        <span>
          <b style={{ fontSize: 10.5 }}>Close</b> {p.close}
          <b style={{ fontSize: 10.5, marginLeft: 6 }}>Chg</b> {p.chg}{' '}
          <span style={{ color: '#1c9a1c', fontSize: 6 }}>▲</span>
        </span>
      </div>
      <canvas ref={priceRef} width={W} height={PRICE_H} style={{ position: 'absolute', left, top, width: W, height: PRICE_H }} />
      <canvas ref={rsiRef} width={W} height={RSI_H + XLAB_H} style={{ position: 'absolute', left, top: top + PRICE_H - 1, width: W, height: RSI_H + XLAB_H }} />
      <div style={{ position: 'absolute', left: left + 2, top: top + PRICE_H + 1, display: 'flex', alignItems: 'center', whiteSpace: 'nowrap', fontFamily: MONO, fontSize: 8.5, lineHeight: '9px', color: '#111' }}>
        <svg width="9" height="7" style={{ marginRight: 1 }}>
          <path d="M0.5 6.5 L3 1.5 L5 4 L8.5 0.5 L8.5 6.5 Z" fill="#3f9f3f" stroke="#222" strokeWidth="0.7" />
        </svg>
        <span>RSI(14) {p.rsiLast}</span>
      </div>
    </>
  );
}

export default function App() {
  return (
    <div style={{ position: 'fixed', left: 0, top: 0, width: 1275, height: 391, background: '#ebebeb', overflow: 'hidden' }}>
      <div style={{ position: 'absolute', left: 40, top: -12, width: 91, height: 14, background: '#fff', border: '1px solid #a8a8a8', borderRadius: 2 }} />
      <div style={{ position: 'absolute', left: 137, top: -12, width: 11, height: 14, background: '#f4f4f4', border: '1px solid #a8a8a8', borderRadius: 2 }} />
      {PANELS.map((p) => <Panel key={p.sym} p={p} />)}
    </div>
  );
}
